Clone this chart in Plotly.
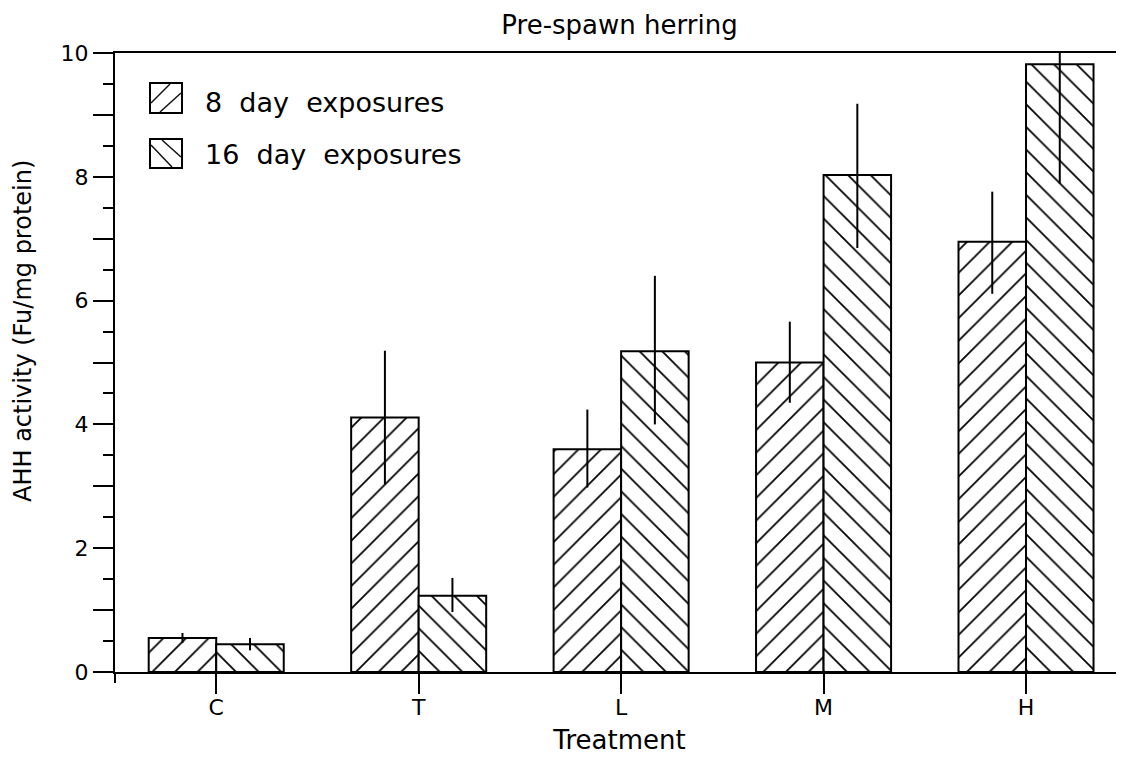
import plotly.graph_objects as go

categories = ["C", "T", "L", "M", "H"]
day8 = [0.55, 4.11, 3.60, 5.00, 6.95]
day8_err_plus = [0.08, 1.08, 0.64, 0.66, 0.81]
day8_err_minus = [0.08, 1.08, 0.62, 0.65, 0.84]
day16 = [0.45, 1.23, 5.18, 8.03, 9.82]
day16_err_plus = [0.10, 0.29, 1.22, 1.15, 1.93]
day16_err_minus = [0.10, 0.26, 1.18, 1.18, 1.93]
series_names = ["8 day exposures", "16 day exposures"]
y_tickvals = [0, 1, 2, 3, 4, 5, 6, 7, 8, 9, 10]
y_ticktext = ["0", "", "2", "", "4", "", "6", "", "8", "", "10"]

# page has an 8px body margin; the figure sits at (8, 8)
OFF = 8
W, H = 1124 - OFF, 759 - OFF
L, R, T, B = 115 - OFF, 0, 53 - OFF, 87
PW, PH = W - L - R, H - T - B
FONT = "DejaVu Sans"


def px(x):
    # x in reference-window pixels -> paper
    return (x - OFF - L) / PW


def py(y):
    return (H - B - (y - OFF)) / PH


fig = go.Figure()
fig.add_trace(go.Bar(
    x=categories, y=day8, name=series_names[0],
    marker=dict(color="white", line=dict(color="black", width=2),
                pattern=dict(shape="/", size=16, solidity=0.11, fgopacity=1,
                             fgcolor="black", bgcolor="white")),
    error_y=dict(type="data", array=day8_err_plus, arrayminus=day8_err_minus,
                 color="black", thickness=2, width=0),
    showlegend=False,
))
fig.add_trace(go.Bar(
    x=categories, y=day16, name=series_names[1],
    marker=dict(color="white", line=dict(color="black", width=2),
                pattern=dict(shape="\\", size=16, solidity=0.11, fgopacity=1,
                             fgcolor="black", bgcolor="white")),
    error_y=dict(type="data", array=day16_err_plus, arrayminus=day16_err_minus,
                 color="black", thickness=2, width=0),
    showlegend=False,
))

shapes = []
# custom legend boxes with hatch strokes
boxes = [(150, 83, 182, 113, "/"), (150, 139, 182, 168, "\\")]
for x0, y0, x1, y1, kind in boxes:
    shapes.append(dict(type="rect", xref="paper", yref="paper",
                       x0=px(x0), x1=px(x1), y0=py(y1), y1=py(y0),
                       line=dict(color="black", width=2), fillcolor="white"))
    if kind == "/":
        segs = [((x0 + 1, y0 + 20), (x0 + 20, y0 + 1)),
                ((x0 + 10, y1 - 1), (x1 - 1, y0 + 10))]
    else:
        segs = [((x0 + 1, y0 + 6), (x0 + 22, y1 - 1)),
                ((x0 + 12, y0 + 1), (x1 - 1, y0 + 18))]
    for (a, b), (c, d) in segs:
        shapes.append(dict(type="line", xref="paper", yref="paper",
                           x0=px(a), y0=py(b), x1=px(c), y1=py(d),
                           line=dict(color="#111111", width=1.5)))
# y axis stub below zero
shapes.append(dict(type="line", xref="paper", yref="paper",
                   x0=0, x1=0, y0=0, y1=py(672 + 11),
                   line=dict(color="black", width=2)))

annotations = [
    dict(text="8\u00a0 day\u00a0 exposures", xref="paper", yref="paper",
         x=px(203), y=py(102), xanchor="left", yanchor="middle", showarrow=False,
         font=dict(family=FONT, size=27, color="black")),
    dict(text="16\u00a0 day\u00a0 exposures", xref="paper", yref="paper",
         x=px(203), y=py(154), xanchor="left", yanchor="middle", showarrow=False,
         font=dict(family=FONT, size=27, color="black")),
    dict(text="AHH activity (Fu/mg protein)", xref="paper", yref="paper",
         x=px(23), y=py(331), xanchor="center", yanchor="middle",
         textangle=-90, showarrow=False,
         font=dict(family=FONT, size=24, color="black")),
]

fig.update_layout(
    width=W, height=H,
    margin=dict(l=L, r=R, t=T, b=B, pad=0),
    paper_bgcolor="white", plot_bgcolor="white",
    barmode="group", bargap=0.333, bargroupgap=0,
    font=dict(family=FONT, color="black"),
    title=dict(text="Pre-spawn herring", x=0.5, xref="paper", xanchor="center",
               y=1 - (25 - OFF) / H, yref="container", yanchor="middle",
               font=dict(family=FONT, size=26, color="black")),
    shapes=shapes, annotations=annotations,
    xaxis=dict(
        type="category", range=[-0.5, 4.484],
        showline=True, linecolor="black", linewidth=2, mirror=True,
        ticks="outside", ticklen=20, tickwidth=2, tickcolor="black",
        ticklabelstandoff=-5,
        tickfont=dict(family=FONT, size=22, color="black"),
        showgrid=False, zeroline=False,
        title=dict(text="Treatment", standoff=11,
                   font=dict(family=FONT, size=26, color="black")),
    ),
    yaxis=dict(
        range=[0, 10],
        showline=True, linecolor="black", linewidth=2,
        tickmode="array", tickvals=y_tickvals, ticktext=y_ticktext,
        ticks="outside", ticklen=20, tickwidth=2, tickcolor="black",
        minor=dict(dtick=0.5, tick0=0, ticks="outside", ticklen=10,
                   tickwidth=2, tickcolor="black", showgrid=False),
        tickfont=dict(family=FONT, size=22, color="black"),
        showgrid=False, zeroline=False,
    ),
)

fig.write_html("out.html")
